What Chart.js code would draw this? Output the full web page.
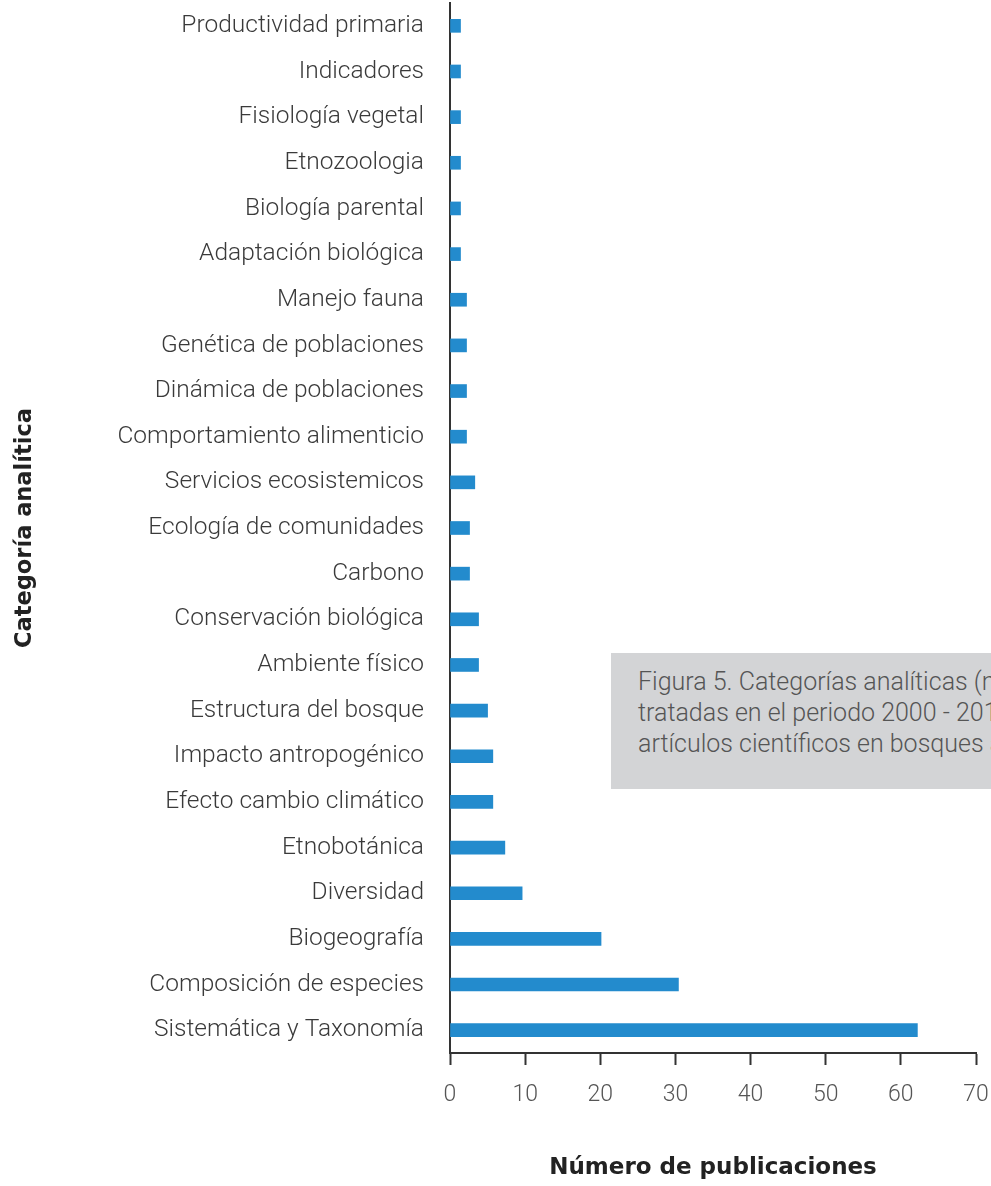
<!DOCTYPE html>
<html>
<head>
<meta charset="utf-8">
<script src="https://cdn.jsdelivr.net/npm/chart.js@4.4.1/dist/chart.umd.min.js"></script>
<style>
  html, body { margin: 0; padding: 0; background: #fff; overflow: hidden; }
  #wrap { position: relative; width: 991px; height: 1186px; }
  #note {
    position: absolute; left: 611px; top: 653px; width: 420px; height: 136px;
    background: #d3d4d6; color: #555; font: 300 25px Roboto, sans-serif;
    line-height: 31px; padding: 13px 0 0 27px; box-sizing: border-box; white-space: nowrap;
  }
</style>
</head>
<body>
<div id="wrap">
  <canvas id="chart" width="991" height="1186"></canvas>
  <div id="note">Figura 5. Categorías analíticas (número de<br>tratadas en el periodo 2000 - 2018 en<br>artículos científicos en bosques andinos</div>
</div>
<script>
const categories = [
  "Productividad primaria", "Indicadores", "Fisiología vegetal", "Etnozoologia",
  "Biología parental", "Adaptación biológica", "Manejo fauna", "Genética de poblaciones",
  "Dinámica de poblaciones", "Comportamiento alimenticio", "Servicios ecosistemicos",
  "Ecología de comunidades", "Carbono", "Conservación biológica", "Ambiente físico",
  "Estructura del bosque", "Impacto antropogénico", "Efecto cambio climático",
  "Etnobotánica", "Diversidad", "Biogeografía", "Composición de especies",
  "Sistemática y Taxonomía"
];
const publicaciones = [
  1.4, 1.4, 1.4, 1.4, 1.4, 1.4, 2.2, 2.2, 2.2, 2.2, 3.3,
  2.6, 2.6, 3.8, 3.8, 5.0, 5.7, 5.7, 7.3, 9.6, 20.1, 30.4, 62.2
];
const xTicks = [0, 10, 20, 30, 40, 50, 60, 70];

new Chart(document.getElementById("chart"), {
  type: "bar",
  data: {
    labels: categories,
    datasets: [{label: "Número de publicaciones", data: publicaciones, backgroundColor: "#238bcd", barThickness: 13}]
  },
  options: {
    indexAxis: "y", responsive: false, animation: false,
    layout: {padding: {left: 0, right: 15, top: 3, bottom: 0}},
    plugins: {legend: {display: false}, tooltip: {enabled: false}},
    scales: {
      x: {
        min: 0, max: 70,
        afterBuildTicks: s => { s.ticks = xTicks.map(v => ({value: v})); },
        afterFit: s => { s.height = 133; s.paddingRight = 0; s.paddingLeft = 0; },
        grid: {drawOnChartArea: false, drawTicks: true, tickLength: 12, tickColor: "#333", tickWidth: 2},
        border: {display: true, color: "#333", width: 2},
        ticks: {color: "#555", padding: 16, font: {family: "Roboto", weight: 300, size: 23}},
        title: {display: true, text: "Número de publicaciones", color: "#222", padding: {top: 0, bottom: 4}, font: {family: "DejaVu Sans", weight: "bold", size: 23}}
      },
      y: {
        afterFit: s => { s.width = 450; s.paddingTop = 0; s.paddingBottom = 0; },
        grid: {drawOnChartArea: false, drawTicks: false},
        border: {display: true, color: "#333", width: 2},
        ticks: {color: "#3a3a3a", padding: 26, autoSkip: false, font: {family: "Roboto", weight: 300, size: 24.5}},
        title: {display: true, text: "Categoría analítica", color: "#222", padding: {top: 12, bottom: 0}, font: {family: "DejaVu Sans", weight: "bold", size: 22.5}}
      }
    }
  }
});
</script>
</body>
</html>
